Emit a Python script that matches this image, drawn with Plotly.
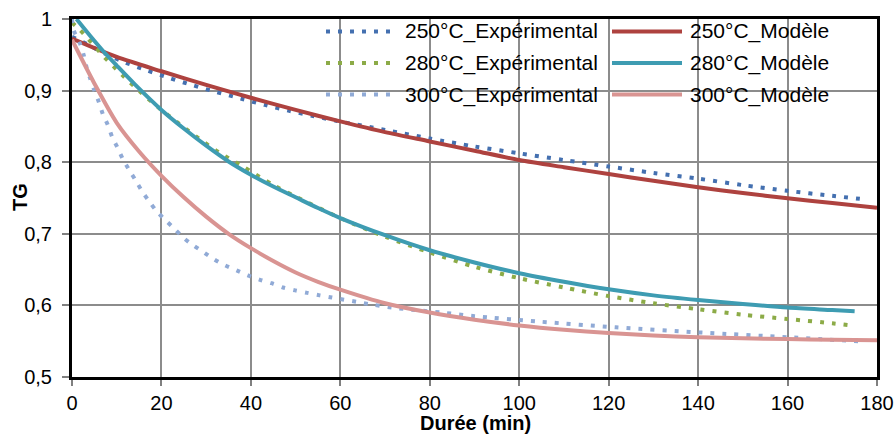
import plotly.graph_objects as go

# ---------------- data ----------------
t_250_exp = [0, 3.7, 6, 11.2, 16.4, 21.6, 27, 32.3, 37.7, 43.1, 48.4, 53.9, 59.3, 70, 80, 90, 100,
             110, 120, 130, 140, 150, 160, 170, 177.5]
tg_250_exp = [0.975, 0.964, 0.956, 0.941, 0.929, 0.918, 0.9075, 0.898, 0.889, 0.880, 0.872, 0.8646,
              0.8576, 0.845, 0.833, 0.822, 0.8124, 0.803, 0.794, 0.785, 0.777, 0.768, 0.760, 0.753, 0.748]

t_250_mod = [0, 10, 20, 30, 40, 50, 60, 70, 80, 90, 100, 110, 120, 130, 140, 150, 160, 170, 180]
tg_250_mod = [0.9727, 0.947, 0.927, 0.908, 0.890, 0.873, 0.857, 0.842, 0.829, 0.816, 0.803, 0.793,
              0.7835, 0.774, 0.765, 0.757, 0.7496, 0.743, 0.7365]

t_280_exp = [0, 1.7, 3.5, 7.2, 11.2, 15.3, 19.4, 23.9, 28.4, 32.8, 37.7, 45, 50, 60, 70, 80, 90, 100,
             110, 120, 130, 140, 150, 160, 170, 173.4]
tg_280_exp = [0.995, 0.985, 0.973, 0.947, 0.922, 0.898, 0.876, 0.854, 0.833, 0.814, 0.796, 0.768, 0.752,
              0.722, 0.696, 0.674, 0.654, 0.638, 0.625, 0.613, 0.603, 0.5946, 0.587, 0.581, 0.575, 0.5726]

t_280_mod = [1, 4, 7, 10, 14, 20, 25, 30, 35, 40, 45, 50, 55, 60, 70, 80, 90, 100, 110, 120, 130,
             140, 150, 160, 170, 175]
tg_280_mod = [1.0, 0.977, 0.955, 0.935, 0.909, 0.873, 0.847, 0.823, 0.801, 0.7825, 0.766, 0.751, 0.736,
              0.722, 0.698, 0.677, 0.660, 0.645, 0.633, 0.6225, 0.614, 0.6075, 0.602, 0.597, 0.5935, 0.5917]

t_300_exp = [0, 0.4, 1.7, 2.6, 3.2, 4.0, 5.0, 6.0, 6.9, 8.0, 9.0, 10.2, 11.4, 12.8, 14.3, 15.7, 17.3,
             19.0, 20.9, 22.9, 25.0, 27.1, 29.5, 31.7, 34.2, 36.8, 39.3, 41.9, 44.6, 47.2, 49.9, 52.6,
             55.4, 58.1, 60.8, 63.6, 66.3, 71.5, 77.5, 82.7, 90, 104.6, 121.6, 140.9, 160.3, 176.9]
tg_300_exp = [1.0, 0.984, 0.967, 0.950, 0.934, 0.918, 0.900, 0.884, 0.867, 0.852, 0.835, 0.820, 0.804,
              0.789, 0.774, 0.759, 0.745, 0.731, 0.719, 0.707, 0.694, 0.684, 0.674, 0.6646, 0.656, 0.649,
              0.642, 0.636, 0.631, 0.625, 0.621, 0.6175, 0.614, 0.611, 0.608, 0.605, 0.602, 0.597, 0.593,
              0.590, 0.585, 0.5773, 0.5694, 0.562, 0.5555, 0.5494]

t_300_mod = [0, 5, 10, 15, 20, 25, 30, 35, 40, 45, 50, 55, 60, 70, 80, 90, 100, 110, 120, 130, 140,
             150, 160, 170, 180]
tg_300_mod = [0.971, 0.910, 0.855, 0.815, 0.781, 0.751, 0.724, 0.700, 0.680, 0.662, 0.646, 0.633, 0.622,
              0.603, 0.590, 0.580, 0.572, 0.566, 0.5615, 0.558, 0.5555, 0.554, 0.553, 0.552, 0.5515]

x_ticks = [0, 20, 40, 60, 80, 100, 120, 140, 160, 180]
y_ticks = [0.5, 0.6, 0.7, 0.8, 0.9, 1.0]
y_ticklabels = ["0,5", "0,6", "0,7", "0,8", "0,9", "1"]

names = ["250°C_Expérimental", "250°C_Modèle",
         "280°C_Expérimental", "280°C_Modèle",
         "300°C_Expérimental", "300°C_Modèle"]

# ---------------- styles ----------------
C_250_EXP = "#4470B0"
C_250_MOD = "#AE423F"
C_280_EXP = "#8CAB47"
C_280_MOD = "#3E9CB2"
C_300_EXP = "#90AAD6"
C_300_MOD = "#D99492"
DOT = "4px,8px"
FONT = "Liberation Sans, Arial, sans-serif"

series = [
    (t_250_exp, tg_250_exp, names[0], C_250_EXP, DOT),
    (t_250_mod, tg_250_mod, names[1], C_250_MOD, "solid"),
    (t_280_exp, tg_280_exp, names[2], C_280_EXP, DOT),
    (t_280_mod, tg_280_mod, names[3], C_280_MOD, "solid"),
    (t_300_exp, tg_300_exp, names[4], C_300_EXP, DOT),
    (t_300_mod, tg_300_mod, names[5], C_300_MOD, "solid"),
]

fig = go.Figure()
for xs, ys, nm, col, dash in series:
    fig.add_trace(go.Scatter(
        x=xs, y=ys, name=nm, mode="lines",
        line=dict(color=col, width=4, dash=dash, shape="spline", smoothing=0.8),
        showlegend=False,
    ))

FW, FH = 895, 434
L, R, T, B = 72, 877, 19, 377          # plot area in page pixels
W, H = R - L, B - T
def px(xp):
    return (xp - L) / W
def py(yp):
    return (B - yp) / H

row_y = [31.5, 63, 94.5]
cols = [(326, 390, 403), (612, 682, 688)]
shapes = []
annotations = []
for i, (xs, ys, nm, col, dash) in enumerate(series):
    r, c = i // 2, i % 2
    x0, x1, xt = cols[c]
    yy = py(row_y[r])
    shapes.append(dict(type="line", xref="paper", yref="paper",
                       x0=px(x0), x1=px(x1), y0=yy, y1=yy,
                       line=dict(color=col, width=4, dash=dash)))
    annotations.append(dict(text=nm, xref="paper", yref="paper", x=px(xt), y=yy,
                            xanchor="left", yanchor="middle", showarrow=False,
                            font=dict(family=FONT, size=21, color="black")))

annotations.append(dict(text="<b>TG</b>", xref="paper", yref="paper",
                        x=px(20), y=py(197), xanchor="center", yanchor="middle",
                        textangle=-90, showarrow=False,
                        font=dict(family=FONT, size=20, color="black")))
annotations.append(dict(text="<b>Durée (min)</b>", xref="paper", yref="paper",
                        x=px(475), y=py(423), xanchor="center", yanchor="middle",
                        showarrow=False,
                        font=dict(family=FONT, size=20, color="black")))

fig.update_layout(
    width=FW, height=FH, autosize=False,
    margin=dict(l=L, r=FW - R, t=T, b=FH - B, autoexpand=False),
    paper_bgcolor="white", plot_bgcolor="white",
    font=dict(family=FONT, size=20, color="black"),
    shapes=shapes, annotations=annotations,
    showlegend=False,
)
fig.update_xaxes(
    range=[0, 180], tickvals=x_ticks, ticktext=[str(v) for v in x_ticks],
    showgrid=True, gridcolor="#8C8C8C", gridwidth=2,
    showline=True, linecolor="black", linewidth=3, mirror=True,
    ticks="outside", ticklen=6, tickwidth=2, tickcolor="#808080",
    tickfont=dict(family=FONT, size=20, color="black"),
    ticklabeloverflow="allow",
    automargin=False, zeroline=False,
)
fig.update_yaxes(
    range=[0.5, 1.0], tickvals=y_ticks, ticktext=y_ticklabels,
    showgrid=True, gridcolor="#8C8C8C", gridwidth=2,
    showline=True, linecolor="black", linewidth=3, mirror=True,
    ticks="outside", ticklen=7, tickwidth=2, tickcolor="#808080",
    tickfont=dict(family=FONT, size=20, color="black"),
    ticklabelstandoff=6, ticklabeloverflow="allow",
    automargin=False, zeroline=False,
)

# remove the browser's default 8px body margin so the figure fills the window
fig.write_html("out.html",
               config={"displayModeBar": False},
               post_script="document.body.style.margin='0';document.body.style.overflow='hidden';")
